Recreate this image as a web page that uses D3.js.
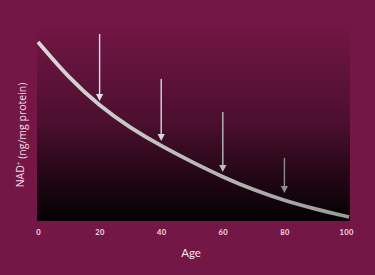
<!DOCTYPE html>
<html>
<head>
<meta charset="utf-8">
<script src="https://cdn.jsdelivr.net/npm/d3@7"></script>
<style>
  html, body { margin: 0; padding: 0; background: #741746; }
  svg { display: block; }
</style>
</head>
<body>
<div id="viz"></div>
<script>
// curve values (NAD+ in arbitrary units, 0..100)
const ages = [0, 10, 20, 30, 40, 50, 60, 70, 80, 90, 100, 101];
const nadValues = [89.5, 71.5, 57.5, 46.5, 37.5, 29.5, 22, 15.5, 10.2, 6, 2.3, 2];

// arrows pointing down at the curve
const arrowAges = [20, 40, 60, 80];
const arrowTop = [93.5, 71, 54.5, 31.5];
const arrowTip = [60, 40, 24.5, 14];
const arrowColors = ["#e2e2e2", "#d6d6d6", "#bcbcbc", "#8c8c8c"];

const xTicks = [0, 20, 40, 60, 80, 100];

const width = 375, height = 275;
const plot = { left: 37, right: 350, top: 22, bottom: 221 };

const svg = d3.select("#viz").append("svg")
    .attr("width", width)
    .attr("height", height);

// background
svg.append("rect")
    .attr("width", width)
    .attr("height", height)
    .attr("fill", "#741746");

const defs = svg.append("defs");

// plot area fades from the background colour to black
const bgGrad = defs.append("linearGradient")
    .attr("id", "plotGrad")
    .attr("x1", 0).attr("y1", 0).attr("x2", 0).attr("y2", 1);
bgGrad.append("stop").attr("offset", "0%").attr("stop-color", "#741746");
bgGrad.append("stop").attr("offset", "50%").attr("stop-color", "#4c0f2f");
bgGrad.append("stop").attr("offset", "100%").attr("stop-color", "#030002");

// curve gets a bit greyer to the right
const lineGrad = defs.append("linearGradient")
    .attr("id", "lineGrad")
    .attr("gradientUnits", "userSpaceOnUse")
    .attr("x1", plot.left).attr("y1", 0).attr("x2", plot.right).attr("y2", 0);
lineGrad.append("stop").attr("offset", "0%").attr("stop-color", "#dadada");
lineGrad.append("stop").attr("offset", "100%").attr("stop-color", "#9a9a9a");

defs.append("clipPath").attr("id", "plotClip")
  .append("rect")
    .attr("x", plot.left)
    .attr("y", 0)
    .attr("width", plot.right - plot.left)
    .attr("height", plot.bottom);

svg.append("rect")
    .attr("x", plot.left)
    .attr("y", plot.top)
    .attr("width", plot.right - plot.left)
    .attr("height", plot.bottom - plot.top)
    .attr("fill", "url(#plotGrad)");

// scales
const xScale = d3.scaleLinear().domain([0, 100]).range([38, 346]);
const yScale = d3.scaleLinear().domain([0, 100]).range([plot.bottom, 21]);

// x axis: labels only
const xAxis = d3.axisBottom(xScale)
    .tickValues(xTicks)
    .tickSize(0)
    .tickPadding(0);
const xAxisG = svg.append("g")
    .attr("transform", "translate(0," + 229 + ")")
    .call(xAxis);
xAxisG.select(".domain").remove();
xAxisG.selectAll("text")
    .attr("dy", "0.75em")
    .attr("fill", "#f3dde8")
    .style("font-family", "Lato, 'Open Sans', sans-serif")
    .style("font-weight", "700")
    .style("font-size", "7.5px")
    .style("letter-spacing", "0.4px");

// axis titles
svg.append("text")
    .attr("x", 191)
    .attr("y", 257)
    .attr("text-anchor", "middle")
    .attr("fill", "#f5e4ed")
    .style("font-family", "Lato, 'Open Sans', sans-serif")
    .style("font-size", "11.5px")
    .text("Age");

svg.append("text")
    .attr("transform", "translate(24,135) rotate(-90)")
    .attr("text-anchor", "middle")
    .attr("fill", "#f2dde8")
    .style("font-family", "'Open Sans', Lato, sans-serif")
    .style("font-size", "10.5px")
    .text("NAD")
  .append("tspan")
    .attr("dy", "-0.45em")
    .style("font-size", "6.5px")
    .text("+")
  .append("tspan")
    .attr("dy", "0.45em")
    .style("font-size", "10.5px")
    .text(" (ng/mg protein)");

// the decline curve
const line = d3.line()
    .x((d, i) => xScale(ages[i]))
    .y(d => yScale(d))
    .curve(d3.curveBasis);

svg.append("path")
    .datum(nadValues)
    .attr("clip-path", "url(#plotClip)")
    .attr("fill", "none")
    .attr("stroke", "url(#lineGrad)")
    .attr("stroke-width", 3.8)
    .attr("d", line);

// arrows
const headH = 7, headW = 3.6;
const arrows = svg.append("g").selectAll("g")
  .data(arrowAges)
  .join("g");

arrows.append("line")
    .attr("x1", d => xScale(d))
    .attr("x2", d => xScale(d))
    .attr("y1", (d, i) => yScale(arrowTop[i]))
    .attr("y2", (d, i) => yScale(arrowTip[i]) - headH + 1)
    .attr("stroke", (d, i) => arrowColors[i])
    .attr("stroke-width", 1.4);

arrows.append("path")
    .attr("d", (d, i) => {
      const x = xScale(d), y = yScale(arrowTip[i]);
      return "M" + (x - headW) + "," + (y - headH) + "L" + (x + headW) + "," + (y - headH) + "L" + x + "," + y + "Z";
    })
    .attr("fill", (d, i) => arrowColors[i]);
</script>
</body>
</html>
